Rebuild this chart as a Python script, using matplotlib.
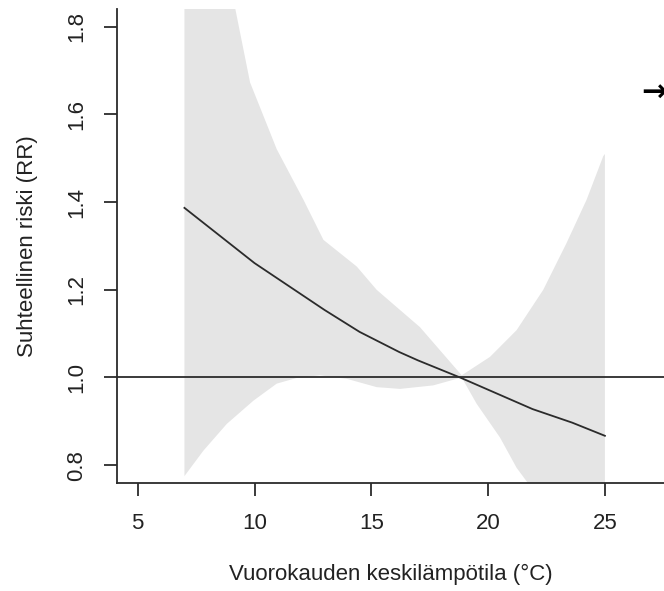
import numpy as np
from matplotlib import pyplot as plt

plt.rcParams['font.family'] = ['Liberation Sans', 'DejaVu Sans']

# relative risk curve
temp = [7, 10, 13, 14.5, 16.2, 17, 18.8, 21.9, 23.6, 25]
rr = [1.387, 1.261, 1.154, 1.104, 1.058, 1.039, 1.0, 0.928, 0.897, 0.867]

# confidence band
upper_x = [7, 8, 8.6, 9.17, 9.81, 10.95, 12.09, 12.95, 14.38, 15.23, 16.23,
           17.08, 18.87, 20.08, 21.22, 22.36, 23.36, 24.22, 24.93, 25]
upper = [2.6, 2.2, 2.0, 1.843, 1.673, 1.521, 1.406, 1.314, 1.253, 1.2, 1.154,
         1.115, 1.005, 1.047, 1.108, 1.2, 1.307, 1.406, 1.505, 1.51]
lower_x = [7, 7.81, 8.81, 9.95, 10.95, 11.81, 12.8, 13.95, 15.23, 16.23,
           17.65, 18.66, 18.87, 19.51, 20.51, 21.22, 21.72, 22.5, 23.5, 25]
lower = [0.775, 0.833, 0.894, 0.947, 0.986, 0.999, 1.005, 0.997, 0.978, 0.974,
         0.982, 0.997, 1.0, 0.940, 0.863, 0.794, 0.758, 0.70, 0.60, 0.48]

xticks = [5, 10, 15, 20, 25]
yticks = [0.8, 1.0, 1.2, 1.4, 1.6, 1.8]

W, H = 664, 591
fig = plt.figure(figsize=(W / 100, H / 100), dpi=100)
left, bottom, top = 116.7, 482.7, 9.3
ax = fig.add_axes([left / W, 1 - bottom / H, 1 - left / W, (bottom - top) / H])

# band on a common grid
gx = np.union1d(upper_x, lower_x)
ax.fill_between(gx, np.interp(gx, lower_x, lower), np.interp(gx, upper_x, upper),
                color='#e5e5e5', linewidth=0)
ax.plot(temp, rr, color='#2b2b2b', linewidth=1.3)
ax.axhline(1.0, color='#2b2b2b', linewidth=1.3)

ax.set_xlim(4.10, 27.53)
ax.set_ylim(0.76, 1.84)
ax.set_xticks(xticks)
ax.set_xticklabels([str(t) for t in xticks])
ax.set_yticks(yticks)
ax.set_yticklabels(['%.1f' % t for t in yticks], rotation=90, va='center')

for s in ['top', 'right']:
    ax.spines[s].set_visible(False)
for s in ['left', 'bottom']:
    ax.spines[s].set_linewidth(1.3)
    ax.spines[s].set_color('#2b2b2b')
ax.tick_params(direction='out', length=9.5, width=1.3, color='#2b2b2b',
               labelsize=16, labelcolor='#222222')
ax.tick_params(axis='x', pad=12)
ax.tick_params(axis='y', pad=12)

ax.set_xlabel('Vuorokauden keskilämpötila (°C)', fontsize=16, color='#222222', labelpad=22)
ax.set_ylabel('Suhteellinen riski (RR)', fontsize=16, color='#222222', labelpad=20)

fig.text(641 / W, 1 - 93 / H, '→', fontsize=22, ha='left', va='center',
         fontweight='bold', family='DejaVu Sans')

fig.savefig('out.png', dpi=100)
